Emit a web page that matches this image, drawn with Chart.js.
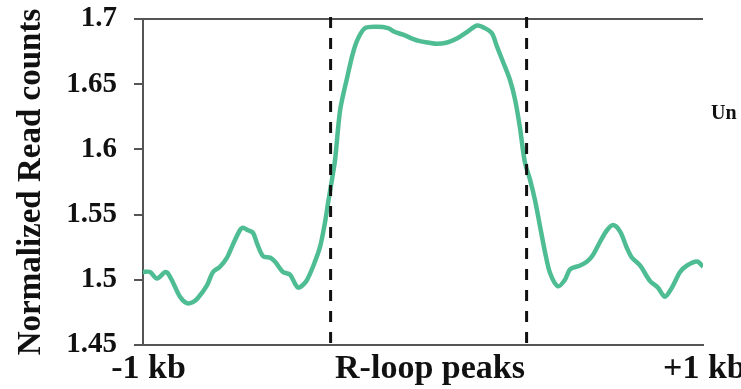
<!DOCTYPE html>
<html>
<head>
<meta charset="utf-8">
<script src="https://cdn.jsdelivr.net/npm/chart.js@4.4.1/dist/chart.umd.min.js"></script>
<style>
  html, body { margin: 0; padding: 0; background: #fff; }
  canvas { display: block; }
</style>
</head>
<body>
<canvas id="profileChart" width="741" height="389"></canvas>
<script>
  // bin positions across the metaprofile (0 = -1 kb, 200 = +1 kb)
  var binPos = [0, 2.5, 5, 7.9, 8.9, 10.7, 13.2, 15.7, 17.9, 19.6, 22.9, 25, 27.5, 30, 32.1, 34.6, 35.7,
    37.5, 39.3, 40.7, 42.9, 45.4, 47.1, 50, 52.5, 54.3, 55.4, 57.1, 58.6, 60.7, 63.2, 65, 66.1, 67.5,
    68.6, 70.4, 72.9, 75, 76.8, 79.3, 83.6, 87.5, 90, 92.9, 96.1, 98.9, 101.8, 105, 108.6, 112.1,
    115.7, 119.3, 122.1, 124.6, 126.4, 128.6, 131.1, 132.9, 134.6, 136.4, 138.2, 140, 141.8, 143.6,
    145.4, 148.2, 150.7, 152.5, 156.1, 158.6, 160.7, 163.2, 165.7, 167.9, 170.4, 172.9, 174.6, 177.5,
    181.1, 183.9, 186.4, 188.9, 191.8, 194.3, 197.9, 200];
  var readCounts = [1.506, 1.506, 1.501, 1.506, 1.505, 1.498, 1.487, 1.482, 1.483, 1.486, 1.496, 1.506,
    1.510, 1.517, 1.527, 1.538, 1.540, 1.538, 1.536, 1.528, 1.518, 1.517, 1.514, 1.506, 1.504, 1.497,
    1.494, 1.496, 1.500, 1.510, 1.525, 1.544, 1.559, 1.577, 1.592, 1.630, 1.655, 1.674, 1.685, 1.693,
    1.694, 1.693, 1.690, 1.688, 1.685, 1.683, 1.682, 1.681, 1.682, 1.685, 1.690, 1.695, 1.693, 1.689,
    1.679, 1.667, 1.653, 1.638, 1.617, 1.590, 1.577, 1.561, 1.541, 1.521, 1.505, 1.495, 1.500, 1.508,
    1.511, 1.514, 1.519, 1.529, 1.538, 1.542, 1.537, 1.524, 1.517, 1.511, 1.499, 1.494, 1.487, 1.494,
    1.506, 1.511, 1.514, 1.510];
  var peakEdges = [67, 137];
  var xLabels = ["-1 kb", "R-loop peaks", "+1 kb"];
  var xLabelPos = [2, 102.5, 200.5];
  var yTicks = { min: 1.45, max: 1.7, step: 0.05 };

  var serif = '"Liberation Serif", "Times New Roman", serif';
  var axisColor = '#555';

  var points = binPos.map(function (b, i) { return { x: b, y: readCounts[i] }; });

  // top frame, dashed peak borders, x labels
  var overlay = {
    id: 'overlay',
    afterDatasetsDraw: function (chart) {
      var ctx = chart.ctx, a = chart.chartArea, x = chart.scales.x;
      ctx.save();
      ctx.strokeStyle = axisColor;
      ctx.lineWidth = 2;
      ctx.beginPath();
      ctx.moveTo(a.left, a.top);
      ctx.lineTo(a.right, a.top);
      ctx.stroke();

      ctx.strokeStyle = '#111';
      ctx.lineWidth = 3;
      ctx.setLineDash([11, 10]);
      peakEdges.forEach(function (v) {
        var px = x.getPixelForValue(v);
        ctx.beginPath();
        ctx.moveTo(px, a.top - 2);
        ctx.lineTo(px, a.bottom);
        ctx.stroke();
      });
      ctx.setLineDash([]);

      ctx.fillStyle = '#111';
      ctx.font = 'bold 34px ' + serif;
      ctx.textAlign = 'center';
      ctx.textBaseline = 'alphabetic';
      xLabels.forEach(function (t, i) {
        ctx.fillText(t, x.getPixelForValue(xLabelPos[i]), a.bottom + 33);
      });

      ctx.font = 'bold 20px ' + serif;
      ctx.textAlign = 'left';
      ctx.fillText('Un', 711, 119);
      ctx.restore();
    }
  };

  var ctx = document.getElementById("profileChart").getContext('2d');
  var myChart = new Chart(ctx, {
    type: 'line',
    data: {
      datasets: [{
        label: 'R-loop',
        data: points,
        borderColor: '#4fbd93',
        borderWidth: 4.5,
        pointRadius: 0,
        tension: 0.3,
        fill: false
      }]
    },
    options: {
      responsive: false,
      animation: false,
      devicePixelRatio: 1,
      layout: { padding: { top: 19, right: 38, left: 0, bottom: 0 } },
      plugins: { legend: { display: false }, tooltip: { enabled: false } },
      scales: {
        x: {
          type: 'linear',
          min: 0,
          max: 200,
          grid: { display: false },
          border: { display: true, color: axisColor, width: 2 },
          ticks: { display: false },
          afterFit: function (s) { s.height = 44; s.paddingLeft = 0; s.paddingRight = 0; }
        },
        y: {
          min: yTicks.min,
          max: yTicks.max,
          ticks: {
            stepSize: yTicks.step,
            padding: 17,
            color: '#111',
            font: { family: serif, size: 29, weight: 'bold' },
            callback: function (v) { return String(Number(v.toFixed(2))); }
          },
          grid: { drawOnChartArea: false, drawTicks: true, tickLength: 9, color: axisColor, lineWidth: 2 },
          border: { color: axisColor, width: 2 },
          title: {
            display: true,
            text: 'Normalized Read counts',
            color: '#111',
            font: { family: serif, size: 33, weight: 'bold' },
            padding: { top: 12, bottom: 0 }
          },
          afterFit: function (s) { s.width = 143; s.paddingTop = 0; s.paddingBottom = 0; }
        }
      }
    },
    plugins: [overlay]
  });
</script>
</body>
</html>
